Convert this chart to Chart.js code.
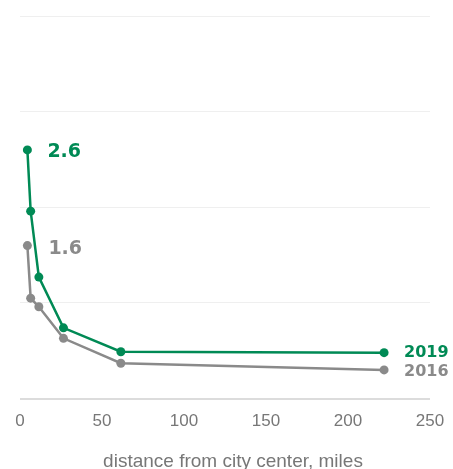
<!DOCTYPE html>
<html>
<head>
<meta charset="utf-8">
<script src="https://cdn.jsdelivr.net/npm/chart.js@4.4.0/dist/chart.umd.min.js"></script>
<style>
  html, body { margin: 0; padding: 0; background: #fff; }
  #wrap { width: 453px; height: 469px; }
</style>
</head>
<body>
<div id="wrap"><canvas id="chart" width="453" height="469"></canvas></div>
<script>
const distances = [4.5, 6.5, 11.5, 26.5, 61.5, 222];
const rate2019 = [2.6, 1.96, 1.27, 0.74, 0.49, 0.48];
const rate2016 = [1.6, 1.05, 0.96, 0.63, 0.37, 0.30];
const xTicks = [0, 50, 100, 150, 200, 250];
const yGrid = [0, 1, 2, 3, 4];
const seriesNames = ['2019', '2016'];

const green = '#008a55';
const gray = '#8a8a8a';

const toPoints = (vals) => vals.map((v, i) => ({ x: distances[i], y: v }));

const labelPlugin = {
    id: 'labels',
    afterDatasetsDraw(chart) {
        const ctx = chart.ctx;
        const xs = chart.scales.x;
        const ys = chart.scales.y;
        const last = distances.length - 1;
        ctx.save();
        ctx.textAlign = 'left';
        ctx.textBaseline = 'alphabetic';

        // first value labels
        ctx.font = 'bold 19px "DejaVu Sans"';
        ctx.fillStyle = green;
        ctx.fillText(rate2019[0].toFixed(1), xs.getPixelForValue(distances[0]) + 20, ys.getPixelForValue(rate2019[0]) + 7.5);
        ctx.fillStyle = gray;
        ctx.fillText(rate2016[0].toFixed(1), xs.getPixelForValue(distances[0]) + 21, ys.getPixelForValue(rate2016[0]) + 8);

        // series names at the end
        ctx.font = 'bold 16px "DejaVu Sans"';
        ctx.fillStyle = green;
        ctx.fillText(seriesNames[0], xs.getPixelForValue(distances[last]) + 20, ys.getPixelForValue(rate2019[last]) + 4);
        ctx.fillStyle = gray;
        ctx.fillText(seriesNames[1], xs.getPixelForValue(distances[last]) + 20, ys.getPixelForValue(rate2016[last]) + 6);

        // axis title
        ctx.font = '19px "Liberation Sans", Arial, sans-serif';
        ctx.fillStyle = '#777';
        ctx.textAlign = 'center';
        ctx.textBaseline = 'middle';
        ctx.fillText('distance from city center, miles', 233, 462);
        ctx.restore();
    }
};

new Chart(document.getElementById('chart'), {
    type: 'scatter',
    data: {
        datasets: [
            {
                label: seriesNames[0],
                data: toPoints(rate2019),
                showLine: true,
                borderColor: green,
                backgroundColor: green,
                borderWidth: 2.5,
                pointRadius: 4.5,
                pointHoverRadius: 4.5,
                pointBorderWidth: 0
            },
            {
                label: seriesNames[1],
                data: toPoints(rate2016),
                showLine: true,
                borderColor: gray,
                backgroundColor: gray,
                borderWidth: 2.5,
                pointRadius: 4.5,
                pointHoverRadius: 4.5,
                pointBorderWidth: 0
            }
        ]
    },
    options: {
        responsive: false,
        animation: false,
        layout: {
            padding: { left: 20, right: 23, top: 16, bottom: 24 }
        },
        plugins: {
            legend: { display: false },
            tooltip: { enabled: false }
        },
        scales: {
            x: {
                type: 'linear',
                min: xTicks[0],
                max: xTicks[xTicks.length - 1],
                afterBuildTicks: (axis) => { axis.ticks = xTicks.map(v => ({ value: v })); },
                afterFit: (axis) => { axis.paddingLeft = 0; axis.paddingRight = 0; },
                grid: { display: false, drawTicks: false },
                border: { display: false },
                ticks: {
                    padding: 13,
                    color: '#777',
                    font: { family: '"Liberation Sans", Arial, sans-serif', size: 17 },
                    maxRotation: 0
                }
            },
            y: {
                min: yGrid[0],
                max: yGrid[yGrid.length - 1],
                afterBuildTicks: (axis) => { axis.ticks = yGrid.map(v => ({ value: v })); },
                ticks: { display: false },
                border: { display: false },
                grid: {
                    drawTicks: false,
                    color: (c) => c.tick && c.tick.value === 0 ? '#dcdcdc' : '#efefef',
                    lineWidth: (c) => c.tick && c.tick.value === 0 ? 2 : 1
                }
            }
        }
    },
    plugins: [labelPlugin]
});
</script>
</body>
</html>
